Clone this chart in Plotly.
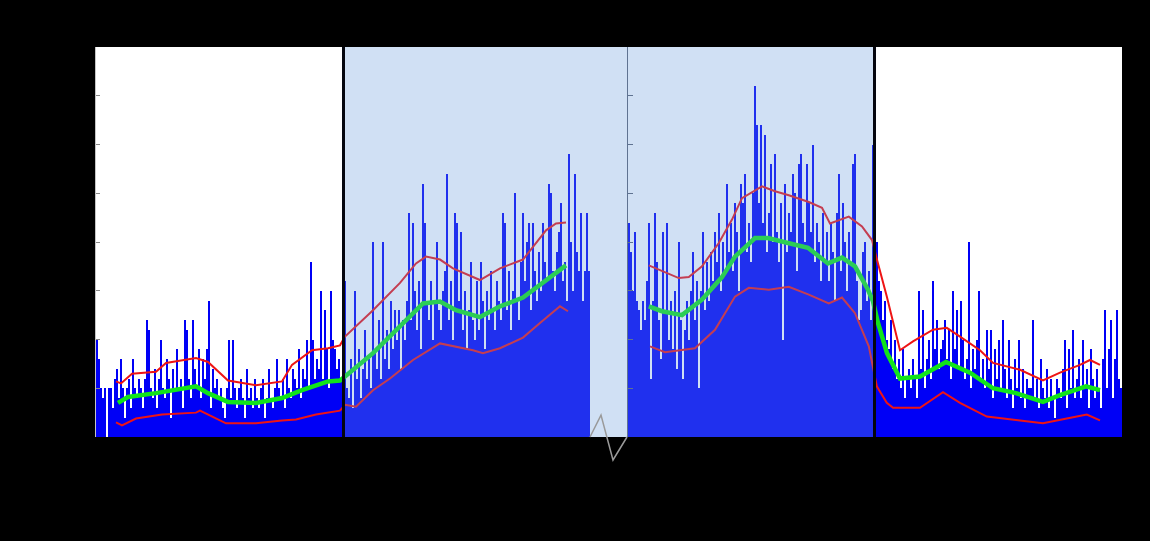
import plotly.graph_objects as go

# Daily counts, four 123-day periods
days_a = list(range(0, 123))
counts_a = [10, 8, 5, 4, 5, 0, 5, 5, 3, 6,
            7, 4, 8, 5, 2, 5, 6, 3, 8, 5,
            4, 6, 5, 3, 6, 12, 11, 5, 4, 7,
            3, 6, 10, 5, 4, 8, 6, 2, 7, 5,
            9, 5, 6, 3, 12, 11, 6, 4, 12, 7,
            5, 9, 4, 8, 6, 9, 14, 3, 7, 5,
            6, 4, 5, 3, 2, 5, 10, 4, 10, 5,
            3, 5, 6, 4, 2, 7, 4, 5, 3, 6,
            4, 3, 5, 6, 2, 4, 7, 4, 3, 5,
            8, 5, 4, 6, 3, 8, 5, 4, 7, 6,
            5, 9, 4, 7, 6, 10, 5, 18, 10, 6,
            8, 7, 15, 6, 13, 9, 5, 15, 10, 9,
            7, 8, 6]

days_b = list(range(124, 247))
counts_b = [16, 5, 4, 8, 3, 15, 6, 9, 4, 7,
            11, 6, 8, 5, 20, 9, 7, 12, 6, 20,
            8, 11, 7, 14, 9, 13, 10, 13, 7, 12,
            10, 14, 23, 12, 22, 15, 11, 16, 9, 26,
            22, 14, 12, 16, 10, 14, 20, 13, 11, 15,
            17, 27, 12, 16, 10, 23, 22, 14, 21, 11,
            15, 9, 13, 18, 12, 10, 16, 11, 18, 14,
            9, 15, 12, 17, 13, 11, 16, 14, 12, 23,
            22, 13, 17, 11, 15, 25, 14, 12, 18, 23,
            16, 20, 22, 13, 22, 17, 14, 19, 15, 22,
            18, 16, 26, 25, 17, 15, 19, 21, 24, 16,
            18, 14, 29, 20, 15, 27, 19, 17, 23, 14, 17, 23, 17]

days_c = list(range(266, 389))
counts_c = [22, 19, 15, 21, 14, 13, 11, 14, 12, 16,
            22, 6, 14, 23, 18, 12, 8, 21, 13, 22,
            10, 14, 9, 15, 7, 20, 12, 6, 11, 14,
            10, 15, 19, 12, 16, 5, 15, 21, 13, 18,
            14, 19, 16, 21, 18, 23, 15, 20, 17, 26,
            19, 22, 17, 24, 21, 15, 26, 24, 27, 19,
            22, 18, 25, 36, 32, 24, 32, 22, 31, 19,
            23, 28, 20, 29, 21, 18, 24, 10, 26, 19,
            23, 21, 27, 25, 17, 28, 29, 22, 20, 28,
            24, 21, 30, 18, 22, 20, 16, 23, 18, 21,
            16, 22, 19, 14, 23, 27, 17, 24, 20, 15,
            21, 18, 28, 29, 16, 12, 13, 19, 20, 14,
            17, 12, 30]

days_d = list(range(390, 513))
counts_d = [20, 16, 15, 12, 14, 10, 9, 12, 7, 10,
            6, 8, 5, 9, 4, 6, 7, 5, 8, 6,
            4, 15, 7, 13, 5, 8, 10, 6, 16, 9,
            12, 7, 9, 10, 12, 8, 11, 6, 15, 9,
            13, 7, 14, 10, 6, 8, 20, 5, 9, 7,
            10, 15, 6, 8, 5, 11, 7, 11, 4, 9,
            6, 10, 5, 12, 7, 4, 10, 6, 3, 8,
            5, 10, 4, 7, 3, 6, 5, 5, 12, 4,
            6, 3, 8, 5, 4, 7, 3, 6, 4, 2,
            6, 5, 4, 7, 10, 3, 9, 5, 11, 4,
            6, 8, 4, 10, 5, 7, 3, 9, 6, 4,
            7, 5, 3, 8, 13, 5, 9, 12, 4, 8,
            13, 6, 5]

# Moving average and band, first block (periods 1-2)
avg1_days = [11, 16, 30, 40, 50, 56, 66, 80, 93, 103, 116, 122, 124.5, 138.5,
             148.5, 163.5, 172, 180, 192, 202, 213.5, 225, 235]
avg1 = [3.5, 4.1, 4.5, 4.9, 5.2, 4.5, 3.6, 3.5, 4.0, 4.8, 5.7, 5.8, 6.2, 8.6,
        10.7, 13.7, 13.9, 13.0, 12.3, 13.4, 14.3, 16.1, 17.6]
upper1_days = [10, 12.5, 18, 30, 35, 50, 56, 66, 80, 93, 98, 108, 116, 122, 124.5,
               138.5, 152, 160, 165, 172, 178.5, 192, 202, 213.5, 218.5, 225, 230, 235]
upper1 = [5.7, 5.5, 6.5, 6.7, 7.6, 8.1, 7.7, 5.8, 5.3, 5.7, 7.4, 8.9, 9.1, 9.4, 10.3,
          13.0, 15.8, 17.8, 18.5, 18.2, 17.3, 16.1, 17.3, 18.2, 19.5, 21.2, 21.9, 22.0]
lower1_days = [10, 13, 20, 33, 50, 52, 65, 80, 93, 100, 110, 122, 124.5, 130, 138.5,
               147, 158.5, 172, 188.5, 193.5, 202, 213.5, 222, 232, 236]
lower1 = [1.5, 1.2, 1.9, 2.3, 2.5, 2.7, 1.4, 1.4, 1.7, 1.8, 2.3, 2.7, 3.3, 3.1, 4.8,
          6.0, 7.9, 9.6, 8.9, 8.6, 9.1, 10.2, 11.7, 13.4, 12.9]

# Moving average and band, second block (periods 3-4)
avg2_days = [276.4, 283, 293, 303, 313, 319.5, 329.5, 336, 346, 356, 366, 373, 379.5,
             386, 388.5, 391, 395.5, 402, 412, 425, 437, 448.5, 460, 473.5, 482, 495, 502]
avg2 = [13.4, 12.9, 12.5, 14.1, 16.4, 18.5, 20.4, 20.4, 19.9, 19.4, 17.8, 18.4, 17.5,
        15.1, 13.9, 11.7, 8.6, 6.0, 6.2, 7.7, 6.6, 5.0, 4.5, 3.6, 4.3, 5.2, 4.8]
upper2_days = [276.4, 283, 291.4, 296.4, 303, 311.4, 318, 323, 333, 339.5, 346.4, 356.4,
               363, 367, 376.4, 383, 388, 391, 395.4, 402, 408.5, 418.5, 425.4, 432,
               442, 448.5, 462, 473.5, 482, 492, 497, 502]
upper2 = [17.6, 17.0, 16.3, 16.4, 17.5, 19.9, 22.3, 24.5, 25.7, 25.2, 24.8, 24.1,
          23.5, 21.9, 22.6, 21.6, 20.2, 17.8, 14.4, 8.9, 9.8, 11.0, 11.2, 10.3,
          8.9, 7.6, 6.9, 5.8, 6.6, 7.4, 7.9, 7.4]
lower2_days = [277, 284.5, 299.5, 309.5, 319.5, 326.4, 336.4, 346.4, 356.4, 366.4, 373,
               379.5, 386.4, 388.4, 390.4, 395.4, 398.5, 412, 423.5, 432, 445.4, 462,
               473.5, 485.4, 495.4, 502]
lower2 = [9.3, 8.7, 9.1, 11.0, 14.4, 15.3, 15.1, 15.4, 14.6, 13.7, 14.3, 12.7, 9.3,
          7.2, 5.2, 3.5, 3.0, 3.0, 4.6, 3.5, 2.1, 1.7, 1.4, 1.9, 2.3, 1.7]

y_ticks = [0, 5, 10, 15, 20, 25, 30, 35, 40]

BAR = "#0000f6"
GREEN = "#12e41a"
RED = "#ee1414"
# translucent wash laid over the two middle periods
SHADE = "rgba(102,156,220,0.31)"

fig = go.Figure()

for days, counts in [(days_a, counts_a), (days_b, counts_b),
                     (days_c, counts_c), (days_d, counts_d)]:
    fig.add_trace(go.Bar(x=[d + 0.5 for d in days], y=counts, width=1.0,
                         marker=dict(color=BAR, line=dict(width=0)),
                         showlegend=False, hoverinfo="skip"))

for xs, ys in [(upper1_days, upper1), (lower1_days, lower1),
               (upper2_days, upper2), (lower2_days, lower2)]:
    fig.add_trace(go.Scatter(x=xs, y=ys, mode="lines", line=dict(color=RED, width=2),
                             showlegend=False, hoverinfo="skip"))
for xs, ys in [(avg1_days, avg1), (avg2_days, avg2)]:
    fig.add_trace(go.Scatter(x=xs, y=ys, mode="lines", line=dict(color=GREEN, width=4.5),
                             showlegend=False, hoverinfo="skip"))

# carrier for the inner y axis
fig.add_trace(go.Scatter(x=[300], y=[0], mode="markers", marker=dict(opacity=0),
                         yaxis="y2", showlegend=False, hoverinfo="skip"))

shapes = [
    # shaded middle periods (including the axis break)
    dict(type="rect", xref="x", yref="paper", x0=124.5, x1=388.5, y0=0, y1=1,
         fillcolor=SHADE, line=dict(width=0), layer="above"),
    # period separators
    dict(type="line", xref="x", yref="paper", x0=123.75, x1=123.75, y0=0, y1=1,
         line=dict(color="#05060f", width=3), layer="above"),
    dict(type="line", xref="x", yref="paper", x0=389.25, x1=389.25, y0=0, y1=1,
         line=dict(color="#05060f", width=3), layer="above"),
    # axis break marker
    dict(type="path", xref="x", yref="paper",
         path="M 247,0 L 252.5,0.056 L 258.5,-0.059 L 265.5,0",
         line=dict(color="#9a9a9a", width=1.5), layer="above"),
]

fig.update_layout(
    width=1150, height=541, autosize=False,
    margin=dict(l=96, r=28, t=47, b=104),
    paper_bgcolor="black", plot_bgcolor="white",
    bargap=0, barmode="overlay",
    shapes=shapes,
    xaxis=dict(range=[0, 513], showgrid=False, zeroline=False, showline=False,
               showticklabels=False, ticks=""),
    yaxis=dict(range=[0, 40], tickvals=y_ticks, showgrid=False, zeroline=False,
               showline=True, linecolor="#c4c4c4", linewidth=1,
               ticks="inside", ticklen=4, tickcolor="#888888",
               showticklabels=False),
    yaxis2=dict(range=[0, 40], tickvals=y_ticks, overlaying="y", anchor="free",
                position=(627 - 96) / 1026, side="left", showgrid=False,
                zeroline=False, showline=True, linecolor="#5c6270", linewidth=1,
                ticks="inside", ticklen=5, tickcolor="#5c6270",
                showticklabels=False),
)

fig.write_html("out.html")
